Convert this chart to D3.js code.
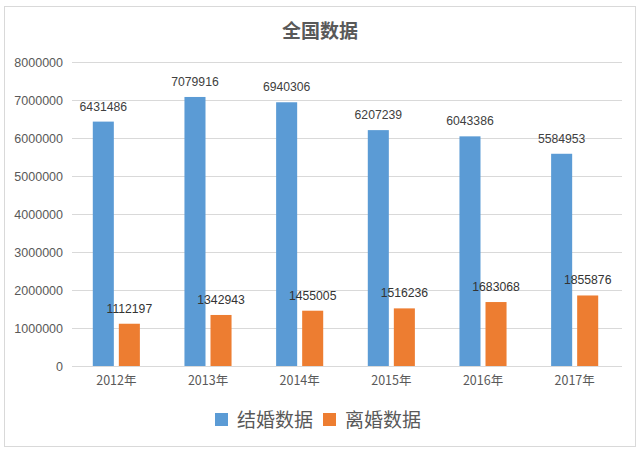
<!DOCTYPE html>
<html><head><meta charset="utf-8">
<script src="https://cdn.jsdelivr.net/npm/d3@7"></script>
<style>html,body{margin:0;padding:0;background:#fff;}</style>
</head><body>
<svg id="c" width="641" height="452"></svg>
<script>
const years = ["2012年","2013年","2014年","2015年","2016年","2017年"];
const seriesNames = ["结婚数据","离婚数据"];
const marriage = [6431486,7079916,6940306,6207239,6043386,5584953];
const divorce = [1112197,1342943,1455005,1516236,1683068,1855876];
const yTicks = [0,1000000,2000000,3000000,4000000,5000000,6000000,7000000,8000000];
const colors = ["#5B9BD5","#ED7D31"];
const title = "全国数据";

const svg = d3.select("#c");
const cjk = "'Noto Sans CJK SC','Noto Sans',sans-serif";
const num = "'Liberation Sans',Arial,sans-serif";

svg.append("rect").attr("x",4.5).attr("y",6.5).attr("width",631).attr("height",440)
  .attr("fill","#fff").attr("stroke","#D9D9D9").attr("stroke-width",1);

svg.append("text").attr("x",320).attr("y",38).attr("text-anchor","middle")
  .attr("font-family",cjk).attr("font-size",19).attr("font-weight",700)
  .attr("fill","#595959").text(title);

const x = d3.scaleBand().domain(years).range([70.5,620.5]);
const xs = d3.scaleBand().domain(seriesNames).range([0,x.bandwidth()])
  .paddingInner(0.192).paddingOuter(0.856);
const y = d3.scaleLinear().domain([0,8000000]).range([366,62]);

// gridlines
svg.append("g").selectAll("line").data(yTicks).join("line")
  .attr("x1",72).attr("x2",622)
  .attr("y1",d=>Math.round(y(d))+0.5).attr("y2",d=>Math.round(y(d))+0.5)
  .attr("stroke","#D9D9D9").attr("stroke-width",1);

// y axis labels
const yAxis = d3.axisLeft(y).tickValues(yTicks).tickSize(0).tickPadding(0).tickFormat(d3.format("d"));
const ya = svg.append("g").attr("transform","translate(63,0)").call(yAxis);
ya.select(".domain").remove();
ya.selectAll("text").attr("font-family",num).attr("font-size",12.5).attr("fill","#595959");

// x axis labels
const xAxis = d3.axisBottom(x).tickSize(0).tickPadding(0);
const xa = svg.append("g").attr("transform","translate(0,376)").call(xAxis);
xa.select(".domain").remove();
xa.selectAll("text").attr("font-family",cjk).attr("font-size",12.5).attr("fill","#595959");

const data = years.map((yr,i)=>({year:yr, vals:[marriage[i],divorce[i]]}));
const groups = svg.append("g").selectAll("g").data(data).join("g")
  .attr("transform",d=>`translate(${x(d.year)},0)`);
groups.selectAll("rect").data(d=>d.vals.map((v,j)=>({s:seriesNames[j],v,j}))).join("rect")
  .attr("x",d=>xs(d.s)).attr("width",xs.bandwidth())
  .attr("y",d=>y(d.v)).attr("height",d=>y(0)-y(d.v))
  .attr("fill",d=>colors[d.j]);
groups.selectAll("text.lbl").data(d=>d.vals.map((v,j)=>({s:seriesNames[j],v,j}))).join("text")
  .attr("class","lbl")
  .attr("x",d=>xs(d.s)+xs.bandwidth()/2).attr("y",d=>y(d.v)-11)
  .attr("text-anchor","middle").attr("font-family",num).attr("font-size",12.2)
  .attr("fill",d=>d.j===0?"#404040":"#333")
  .text(d=>d.v);

// legend
const legX = [215,323];
const leg = svg.append("g").selectAll("g").data(seriesNames).join("g")
  .attr("transform",(d,i)=>`translate(${legX[i]},413)`);
leg.append("rect").attr("width",13).attr("height",13).attr("fill",(d,i)=>colors[i]);
leg.append("text").attr("x",22).attr("y",14).attr("font-family",cjk).attr("font-size",19)
  .attr("fill","#595959").text(d=>d);
</script>
</body></html>
